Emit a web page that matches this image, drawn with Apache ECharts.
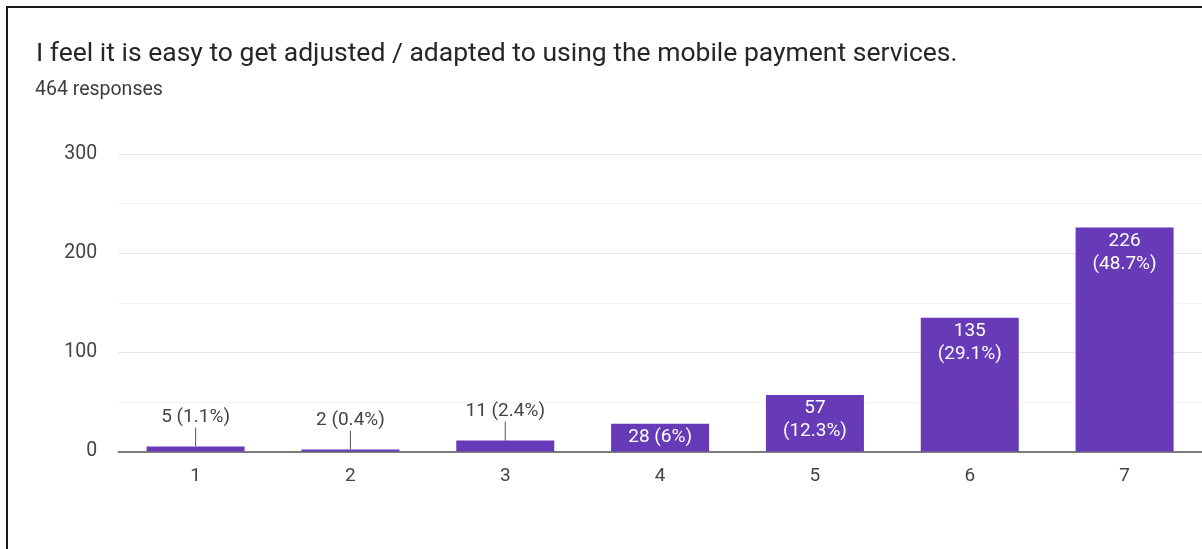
<!DOCTYPE html>
<html>
<head>
<meta charset="utf-8">
<script src="https://cdn.jsdelivr.net/npm/echarts@6/dist/echarts.min.js"></script>
<style>
  html, body { margin: 0; padding: 0; background: #fff; }
  #frame {
    position: absolute; left: 6px; top: 6px; right: -10px; bottom: -10px;
    border-top: 2px solid #1a1a1a; border-left: 2px solid #1a1a1a;
  }
  #chart { position: absolute; left: 0; top: 0; width: 1202px; height: 549px; }
</style>
</head>
<body>
<div id="frame"></div>
<div id="chart"></div>
<script>
const questionText = 'I feel it is easy to get adjusted / adapted to using the mobile payment services.';
const responseText = '464 responses';
const categories = ['1', '2', '3', '4', '5', '6', '7'];
const counts = [5, 2, 11, 28, 57, 135, 226];
const percents = ['1.1', '0.4', '2.4', '6', '12.3', '29.1', '48.7'];
const yTicks = [0, 100, 200, 300];

const PURPLE = '#673ab7';
const FONT = 'Roboto, "Liberation Sans", Arial, sans-serif';

// Short bars get their label above, joined to the bar by a small leader line.
const calloutIdx = counts.map((v, i) => i).filter(i => counts[i] < 20);
const calloutData = calloutIdx.map(i => [i, counts[i], counts[i] + ' (' + percents[i] + '%)']);

const barData = counts.map((v, i) => {
  const txt = v < 40 ? v + ' (' + percents[i] + '%)' : v + '\n(' + percents[i] + '%)';
  return { value: v, label: { show: v >= 20, formatter: txt } };
});

const chart = echarts.init(document.getElementById('chart'), null, { renderer: 'canvas' });
chart.setOption({
  animation: false,
  backgroundColor: 'transparent',
  graphic: [
    { type: 'text', x: 36, y: 54,
      style: { text: questionText, font: '26.5px ' + FONT, fill: '#262626', verticalAlign: 'middle' } },
    { type: 'text', x: 35, y: 90,
      style: { text: responseText, font: '19.5px ' + FONT, fill: '#3c3c3c', verticalAlign: 'middle' } }
  ],
  grid: { left: 118.2, top: 154, width: 1097, height: 297.5, containLabel: false },
  xAxis: {
    type: 'category',
    data: categories,
    axisLine: { show: true, lineStyle: { color: '#555', width: 1.5 } },
    axisTick: { show: false },
    axisLabel: { color: '#444', fontSize: 19, fontFamily: FONT, margin: 15 }
  },
  yAxis: {
    type: 'value',
    min: 0, max: 300, interval: 50,
    axisLine: { show: false },
    axisTick: { show: false },
    axisLabel: {
      color: '#444', fontSize: 19.5, fontFamily: FONT, margin: 21,
      formatter: v => yTicks.includes(v) ? String(v) : ''
    },
    splitLine: { lineStyle: { color: ['#e6e6e6', '#f4f4f4'], width: 1 } }
  },
  series: [
    {
      type: 'bar',
      data: barData,
      barWidth: 98,
      itemStyle: { color: PURPLE },
      label: {
        position: 'insideTop', distance: 2,
        color: '#fff', fontSize: 19, lineHeight: 23, fontFamily: FONT
      },
      z: 2
    },
    {
      type: 'custom',
      data: calloutData,
      z: 3,
      renderItem: (params, api) => {
        const p = api.coord([api.value(0), api.value(1)]);
        const text = calloutData[params.dataIndex][2];
        return {
          type: 'group',
          children: [
            { type: 'line', shape: { x1: p[0], y1: p[1], x2: p[0], y2: p[1] - 19 },
              style: { stroke: '#555', lineWidth: 1 } },
            { type: 'text', x: p[0], y: p[1] - 29,
              style: { text: text, fill: '#444', font: '19px ' + FONT, align: 'center', verticalAlign: 'middle' } }
          ]
        };
      }
    }
  ]
});
</script>
</body>
</html>
